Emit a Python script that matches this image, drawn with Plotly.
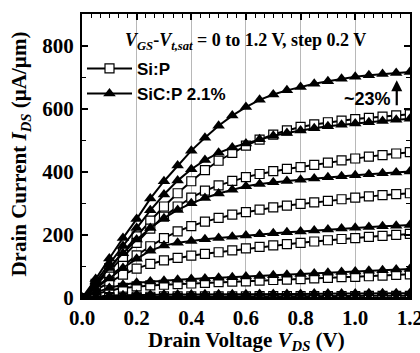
import plotly.graph_objects as go

# Drain voltage sweep (V)
vds = [0.00, 0.05, 0.10, 0.15, 0.20, 0.25, 0.30, 0.35, 0.40, 0.45, 0.50, 0.55,
       0.60, 0.65, 0.70, 0.75, 0.80, 0.85, 0.90, 0.95, 1.00, 1.05, 1.10, 1.15, 1.20]

# Si:P drain current (uA/um) for VGS - Vt,sat = 1.2 ... 0 V
si_12 = [0, 45, 95, 145, 195, 245, 290, 332, 370, 405, 435, 460, 483, 502, 518, 531, 542, 550, 557, 562, 567, 571, 575, 579, 582]
si_10 = [0, 40, 85, 130, 175, 220, 258, 290, 318, 340, 357, 371, 383, 393, 402, 409, 415, 422, 429, 436, 442, 448, 453, 458, 462]
si_08 = [0, 32, 68, 102, 135, 164, 190, 211, 228, 242, 254, 264, 272, 280, 287, 293, 298, 303, 308, 313, 318, 322, 326, 329, 332]
si_06 = [0, 24, 50, 74, 93, 108, 119, 127, 134, 140, 145, 151, 157, 162, 167, 171, 175, 179, 183, 187, 190, 194, 197, 200, 203]
si_04 = [0, 12, 24, 32, 37, 40, 42, 44, 46, 48, 50, 52, 53, 55, 57, 58, 60, 62, 64, 66, 67, 69, 71, 73, 75]
si_02 = [0, 2, 3, 4, 4, 4, 5, 5, 5, 5, 5, 5, 5, 6, 6, 6, 6, 6, 6, 6, 6, 7, 7, 7, 7]
si_00 = [0, 0, 0, 0, 0, 0, 0, 0, 0, 0, 0, 0, 0, 0, 0, 0, 0, 0, 0, 0, 0, 0, 0, 0, 0]

# SiC:P 2.1% drain current (uA/um) for VGS - Vt,sat = 1.2 ... 0 V
sic_12 = [0, 60, 125, 190, 250, 315, 370, 420, 467, 508, 546, 578, 605, 628, 645, 658, 669, 679, 687, 695, 701, 706, 710, 713, 716]
sic_10 = [0, 52, 108, 165, 222, 278, 328, 372, 408, 437, 460, 477, 490, 503, 514, 523, 531, 538, 544, 549, 553, 557, 561, 565, 568]
sic_08 = [0, 45, 95, 142, 185, 222, 253, 279, 300, 317, 331, 343, 354, 361, 367, 371, 375, 379, 383, 386, 389, 392, 395, 398, 401]
sic_06 = [0, 30, 62, 95, 124, 150, 166, 175, 181, 186, 190, 194, 198, 202, 205, 208, 211, 214, 217, 220, 223, 225, 227, 229, 231]
sic_04 = [0, 18, 32, 42, 48, 52, 55, 58, 60, 62, 64, 66, 68, 70, 72, 74, 76, 78, 80, 82, 84, 86, 88, 90, 92]
sic_02 = [0, 5, 8, 9, 10, 10, 11, 11, 11, 12, 12, 12, 12, 13, 13, 13, 13, 14, 14, 14, 14, 15, 15, 15, 15]
sic_00 = [0, 0, 0, 0, 0, 0, 0, 0, 0, 0, 0, 0, 0, 0, 0, 0, 0, 0, 0, 0, 0, 0, 0, 0, 0]

si_curves = [si_12, si_10, si_08, si_06, si_04, si_02, si_00]
sic_curves = [sic_12, sic_10, sic_08, sic_06, sic_04, sic_02, sic_00]

x_ticks = [0.0, 0.2, 0.4, 0.6, 0.8, 1.0, 1.2]
x_labels = ["0.0", "0.2", "0.4", "0.6", "0.8", "1.0", "1.2"]
y_ticks = [0, 200, 400, 600, 800]

X_RANGE = [0, 1.2005]
Y_RANGE = [0, 900]

SERIF = "Liberation Serif"
SANS = "Liberation Sans"

fig = go.Figure()

for i, ids in enumerate(si_curves):
    fig.add_trace(go.Scatter(
        x=vds, y=ids, mode="lines+markers", name="Si:P",
        legendgroup="si", showlegend=(i == 0),
        line=dict(color="black", width=2),
        marker=dict(symbol="square", size=9, color="white",
                    line=dict(color="black", width=1.2)),
    ))

for i, ids in enumerate(sic_curves):
    fig.add_trace(go.Scatter(
        x=vds, y=ids, mode="lines+markers", name="SiC:P 2.1%",
        legendgroup="sic", showlegend=(i == 0),
        line=dict(color="black", width=2),
        marker=dict(symbol="triangle-up", size=11, color="black",
                    line=dict(color="black", width=0)),
    ))

# empty trace that anchors the top / right tick axes
fig.add_trace(go.Scatter(x=[], y=[], xaxis="x2", yaxis="y2",
                         showlegend=False, hoverinfo="skip"))

tickfont = dict(family=SERIF, size=21, color="black", weight="bold")
titlefont = dict(family=SERIF, size=21, color="black", weight="bold")
tick_style = dict(ticks="inside", ticklen=6, tickwidth=1.5, tickcolor="black")

fig.update_layout(
    xaxis=dict(
        range=X_RANGE, tickvals=x_ticks, ticktext=x_labels, **tick_style,
        showline=True, linecolor="black", linewidth=2, mirror=True,
        showgrid=True, gridcolor="#b8b8b8", gridwidth=1, zeroline=False,
        tickfont=tickfont, ticklabelstandoff=0, ticklabeloverflow="allow",
        automargin=False,
    ),
    yaxis=dict(
        range=Y_RANGE, tickvals=y_ticks, **tick_style,
        showline=True, linecolor="black", linewidth=2, mirror=True,
        showgrid=False, zeroline=False, automargin=False,
        minor=dict(dtick=100, tick0=0, ticks="inside", ticklen=4,
                   tickcolor="black", tickwidth=1.2, showgrid=False),
        tickfont=tickfont, ticklabelstandoff=2,
    ),
    xaxis2=dict(
        overlaying="x", side="top", anchor="y", automargin=False,
        range=X_RANGE, tickvals=x_ticks, showticklabels=False, **tick_style,
        showgrid=False, zeroline=False, showline=False,
        minor=dict(dtick=0.2 / 6, tick0=0, ticks="inside", ticklen=4,
                   tickcolor="black", tickwidth=1.2, showgrid=False),
    ),
    yaxis2=dict(
        overlaying="y", side="right", anchor="x", automargin=False,
        range=Y_RANGE, tickvals=y_ticks, showticklabels=False, **tick_style,
        showgrid=False, zeroline=False, showline=False,
        minor=dict(dtick=100, tick0=0, ticks="inside", ticklen=4,
                   tickcolor="black", tickwidth=1.2, showgrid=False),
    ),
)

# Axis titles
fig.add_annotation(
    xref="paper", yref="paper", x=0.5, y=-0.153, xanchor="center", yanchor="middle",
    showarrow=False, font=titlefont,
    text="Drain Voltage <i>V</i><sub><i>DS</i></sub> (V)",
)
fig.add_annotation(
    xref="paper", yref="paper", x=-0.189, y=0.505, xanchor="center", yanchor="middle",
    showarrow=False, font=titlefont, textangle=-90,
    text="Drain Current <i>I</i><sub><i>DS</i></sub> (\u00b5A/\u00b5m)",
)

# Gate overdrive label
fig.add_annotation(
    xref="paper", yref="paper", x=0.497, y=0.95, showarrow=False,
    text="<i>V</i><sub><i>GS</i></sub>-<i>V</i><sub><i>t,sat</i></sub> = 0 to 1.2 V, step 0.2 V",
    font=dict(family=SERIF, size=18, color="black", weight="bold"),
)

# Enhancement arrow between Si:P and SiC:P at the highest overdrive
fig.add_annotation(
    xref="x", yref="y", axref="x", ayref="y",
    x=1.152, y=690, ax=1.152, ay=606, text="", showarrow=True,
    arrowhead=2, arrowsize=1, arrowwidth=2.2, arrowcolor="black",
)
fig.add_annotation(
    xref="x", yref="y", x=1.045, y=630, showarrow=False, text="~23%",
    font=dict(family=SANS, size=18, color="black", weight="bold"),
)

fig.update_layout(
    width=420, height=353,
    margin=dict(l=82, r=10, t=14, b=55, autoexpand=False),
    plot_bgcolor="white", paper_bgcolor="white",
    legend=dict(x=0.0, y=0.87, xanchor="left", yanchor="top",
                bgcolor="rgba(0,0,0,0)", itemwidth=45, tracegroupgap=0,
                font=dict(family=SANS, size=17, color="black", weight="bold")),
)

fig.write_html("out.html")
